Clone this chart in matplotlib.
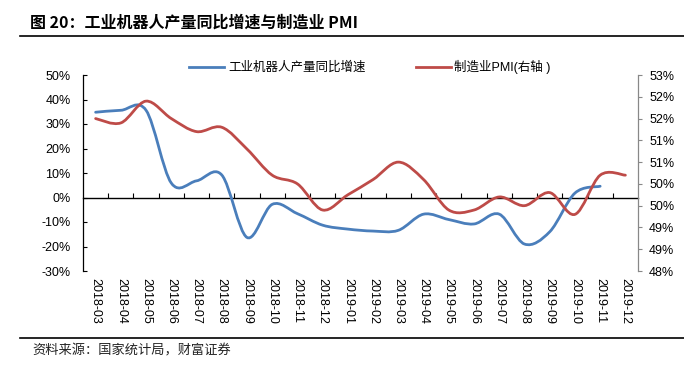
import numpy as np
import matplotlib
matplotlib.use('Agg')
import matplotlib.pyplot as plt
from matplotlib.path import Path
from matplotlib.patches import PathPatch
from matplotlib.lines import Line2D

plt.rcParams['font.family'] = ['Liberation Sans', 'Noto Sans CJK SC', 'DejaVu Sans']

# ---- data ----
months = ['2018-03', '2018-04', '2018-05', '2018-06', '2018-07', '2018-08',
          '2018-09', '2018-10', '2018-11', '2018-12', '2019-01', '2019-02',
          '2019-03', '2019-04', '2019-05', '2019-06', '2019-07', '2019-08',
          '2019-09', '2019-10', '2019-11', '2019-12']
robot_yoy = [34.8, 35.6, 35.6, 5.9, 6.8, 9.2, -16.3, -2.8, -6.6, -11.3, -12.9, -13.7,
             -13.4, -6.8, -9.0, -10.8, -6.8, -19.0, -14.0, 1.8, 4.6]
pmi = [51.5, 51.4, 51.9, 51.5, 51.2, 51.3, 50.8, 50.2, 50.0, 49.4, 49.75, 50.1,
       50.5, 50.1, 49.4, 49.4, 49.7, 49.5, 49.8, 49.3, 50.2, 50.2]
left_ticks = [-30, -20, -10, 0, 10, 20, 30, 40, 50]
right_ticks = [48.0, 48.5, 49.0, 49.5, 50.0, 50.5, 51.0, 51.5, 52.0, 52.5]
right_labels = ['48%', '49%', '49%', '50%', '50%', '51%', '51%', '52%', '52%', '53%']

blue = '#4a7ebb'
red = '#be4b48'


def smooth_path(xs, ys):
    # excel-like smoothed line: cubic bezier through the points
    pts = np.column_stack([xs, ys]).astype(float)
    n = len(pts)
    verts = [pts[0]]
    codes = [Path.MOVETO]
    for i in range(n - 1):
        p0 = pts[i - 1] if i > 0 else pts[i]
        p1 = pts[i]
        p2 = pts[i + 1]
        p3 = pts[i + 2] if i + 2 < n else pts[i + 1]
        c1 = p1 + (p2 - p0) / 6.0
        c2 = p2 - (p3 - p1) / 6.0
        verts += [c1, c2, p2]
        codes += [Path.CURVE4] * 3
    return Path(verts, codes)


fig = plt.figure(figsize=(6.84, 3.68), dpi=100)
ax = fig.add_axes([83 / 684, 1 - 271 / 368, (638 - 83) / 684, (271 - 75) / 368])
ax2 = ax.twinx()

x = np.arange(len(months))

ax.add_patch(PathPatch(smooth_path(x[:len(robot_yoy)], robot_yoy), fill=False,
                       edgecolor=blue, lw=2.0, capstyle='round', zorder=3))
ax2.add_patch(PathPatch(smooth_path(x, pmi), fill=False,
                        edgecolor=red, lw=2.0, capstyle='round', zorder=3))

ax.set_xlim(-0.5, len(months) - 0.5)
ax.set_ylim(-30, 50)
ax2.set_ylim(48, 52.5)

ax.set_yticks(left_ticks)
ax.set_yticklabels(['%d%%' % v for v in left_ticks], fontsize=9)
ax.tick_params(axis='y', direction='in', length=3, width=0.8, pad=9)

ax2.set_yticks(right_ticks)
ax2.set_yticklabels(right_labels, fontsize=9)
ax2.tick_params(axis='y', direction='out', length=3, width=0.8, color='#888888', pad=5)

# category axis crossing at zero, tick marks between months
ax.spines['bottom'].set_position(('data', 0))
ax.spines['bottom'].set_linewidth(1.0)
ax.set_xticks(x)
ax.set_xticks(x[:-1] + 0.5, minor=True)
ax.tick_params(axis='x', which='major', length=0, labelbottom=False)
ax.tick_params(axis='x', which='minor', direction='in', length=3.5, width=0.8)

sec = ax.secondary_xaxis(0)
sec.set_xticks(x)
sec.set_xticklabels(months, rotation=-90, fontsize=9)
sec.tick_params(length=0, pad=5)
sec.spines['bottom'].set_visible(False)

for a in (ax, ax2):
    a.spines['top'].set_visible(False)
ax.spines['right'].set_visible(False)
ax2.spines['left'].set_visible(False)
ax2.spines['bottom'].set_visible(False)
ax.spines['left'].set_linewidth(0.9)
ax2.spines['right'].set_color('#888888')
ax2.spines['right'].set_linewidth(0.9)

handles = [Line2D([], [], color=blue, lw=2.0), Line2D([], [], color=red, lw=2.0)]
fig.legend(handles, ['工业机器人产量同比增速', '制造业PMI(右轴 )'],
           loc='center', bbox_to_anchor=(370 / 684, 1 - 67 / 368), ncol=2,
           frameon=False, handlelength=2.8, columnspacing=4.0, handletextpad=0.3,
           prop={'family': ['Liberation Sans', 'Noto Sans CJK SC'], 'size': 9})

# title, rules and source
fig.text(30 / 684, 1 - 23 / 368, '图 20：工业机器人产量同比增速与制造业 PMI',
         fontsize=11.5, fontweight='bold', family=['Noto Sans CJK SC', 'DejaVu Sans'],
         ha='left', va='center')
fig.add_artist(Line2D([20 / 684, 1], [1 - 36 / 368] * 2, color='black', lw=1.2))
fig.add_artist(Line2D([20 / 684, 1], [1 - 338 / 368] * 2, color='black', lw=1.2))
fig.text(32 / 684, 1 - 351 / 368, '资料来源：国家统计局，财富证券', fontsize=9.5,
         family=['Noto Sans CJK SC', 'DejaVu Sans'], ha='left', va='center', color='#222222')

fig.savefig('out.png', dpi=100)
